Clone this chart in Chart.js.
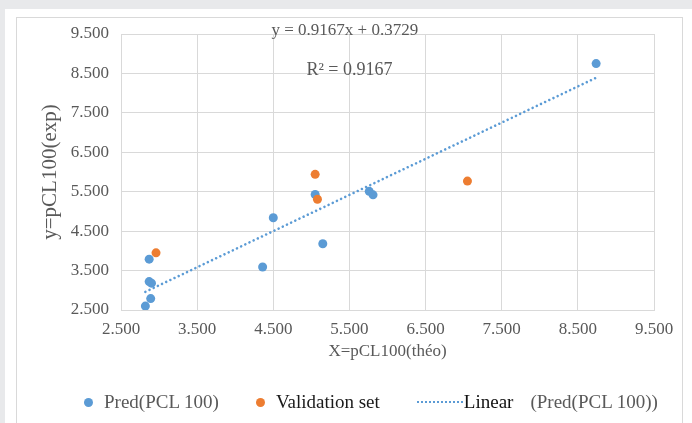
<!DOCTYPE html>
<html>
<head>
<meta charset="utf-8">
<script src="https://cdn.jsdelivr.net/npm/chart.js@4.4.1/dist/chart.umd.min.js"></script>
<style>
  html, body { margin: 0; padding: 0; width: 692px; height: 423px; overflow: hidden; background: #e8e9eb; }
  #panel { position: absolute; left: 5px; top: 9px; right: 0; bottom: 0; background: #fff; }
  #frame { position: absolute; left: 16px; top: 17px; width: 667px; height: 420px; border: 1px solid #d9d9d9; box-sizing: border-box; }
  #wrap { position: absolute; left: 0; top: 0; width: 692px; height: 423px; }
  #legend { position: absolute; left: 84px; top: 391px; display: flex; align-items: center;
            font-family: "Liberation Serif", serif; font-size: 19px; color: #595959; white-space: nowrap; }
  .item { display: flex; align-items: center; margin-right: 37px; }
  .dot { width: 9px; height: 9px; border-radius: 50%; margin-right: 11px; }
  .dash { width: 46px; height: 0; border-top: 2px dotted #5b9bd5; margin-right: 1px; }
</style>
</head>
<body>
<div id="panel"></div>
<div id="frame"></div>
<div id="wrap"><canvas id="chart" width="692" height="423"></canvas></div>
<div id="legend"></div>
<script>
// valeurs
const predX = [2.82, 2.89, 2.87, 2.90, 2.87, 4.36, 4.50, 5.05, 5.15, 5.76, 5.81, 8.74];
const predY = [2.60, 2.79, 3.22, 3.18, 3.79, 3.59, 4.84, 5.43, 4.18, 5.51, 5.42, 8.75];
const validX = [2.96, 5.05, 5.08, 7.05];
const validY = [3.95, 5.94, 5.31, 5.77];
const trendX = [2.82, 8.74];
const trendY = [2.96, 8.39];
const tickValues = [2.5, 3.5, 4.5, 5.5, 6.5, 7.5, 8.5, 9.5];
const seriesNames = ["Pred(PCL 100)", "Validation set", "Linear (Pred(PCL 100))"];
const eqText = "y = 0.9167x + 0.3729";
const r2Text = "R\u00b2 = 0.9167";

const blue = "#5b9bd5";
const orange = "#ed7d31";
const grey = "#595959";
const serif = "'Liberation Serif', 'Times New Roman', serif";

function toPoints(xs, ys) {
    return xs.map((x, i) => ({ x: x, y: ys[i] }));
}

// texte de la courbe de tendance
const trendText = {
    id: "trendText",
    afterDatasetsDraw(chart) {
        const ctx = chart.ctx;
        const sx = chart.scales.x, sy = chart.scales.y;
        ctx.save();
        ctx.fillStyle = grey;
        ctx.textAlign = "center";
        ctx.textBaseline = "middle";
        ctx.font = "17px " + serif;
        ctx.fillText(eqText, sx.getPixelForValue(5.44), sy.getPixelForValue(9.58));
        ctx.font = "18px " + serif;
        ctx.fillText(r2Text, sx.getPixelForValue(5.50), sy.getPixelForValue(8.59));
        ctx.restore();
    }
};

const fixTicks = s => { s.ticks = tickValues.map(v => ({ value: v })); };

const chart = new Chart(document.getElementById("chart"), {
    type: "scatter",
    data: {
        datasets: [
            {
                label: seriesNames[0],
                data: toPoints(predX, predY),
                backgroundColor: blue,
                borderColor: blue,
                pointRadius: 4.5,
                pointBorderWidth: 0,
                order: 2
            },
            {
                label: seriesNames[1],
                data: toPoints(validX, validY),
                backgroundColor: orange,
                borderColor: orange,
                pointRadius: 4.5,
                pointBorderWidth: 0,
                order: 1
            },
            {
                label: seriesNames[2],
                type: "line",
                data: toPoints(trendX, trendY),
                borderColor: blue,
                borderWidth: 2.6,
                borderDash: [0.01, 4.6],
                borderCapStyle: "round",
                pointRadius: 0,
                fill: false,
                order: 0
            }
        ]
    },
    options: {
        responsive: false,
        animation: false,
        layout: { padding: { left: 16, top: 34, right: 38, bottom: 58 } },
        plugins: {
            legend: { display: false },
            tooltip: { enabled: false }
        },
        scales: {
            x: {
                type: "linear",
                min: 2.5,
                max: 9.5,
                afterBuildTicks: fixTicks,
                afterFit: s => { s.height = 55; },
                grid: { color: "#d9d9d9", drawTicks: false },
                border: { color: "#d9d9d9" },
                ticks: {
                    padding: 9,
                    color: grey,
                    font: { family: serif, size: 17 },
                    callback: v => v.toFixed(3)
                },
                title: {
                    display: true,
                    text: "X=pCL100(théo)",
                    color: grey,
                    font: { family: serif, size: 17 },
                    padding: { top: 0, bottom: 3 }
                }
            },
            y: {
                type: "linear",
                min: 2.5,
                max: 9.5,
                afterBuildTicks: fixTicks,
                afterFit: s => { s.width = 105; },
                grid: { color: "#d9d9d9", drawTicks: false },
                border: { color: "#d9d9d9" },
                ticks: {
                    padding: 12,
                    color: grey,
                    font: { family: serif, size: 17 },
                    callback: v => v.toFixed(3)
                },
                title: {
                    display: true,
                    text: "y=pCL100(exp)",
                    color: grey,
                    font: { family: serif, size: 21 },
                    padding: { top: 22, bottom: 0 }
                }
            }
        }
    },
    plugins: [trendText]
});

// légende en HTML, construite depuis les séries
const legend = document.getElementById("legend");
chart.data.datasets.forEach((ds, i) => {
    const item = document.createElement("div");
    item.className = "item";
    if (ds.type === "line") {
        const mark = document.createElement("span");
        mark.className = "dash";
        item.appendChild(mark);
        const parts = ds.label.split(" ");
        const first = document.createElement("span");
        first.textContent = parts.shift();
        first.style.color = "#111";
        first.style.marginRight = "17px";
        const rest = document.createElement("span");
        rest.textContent = parts.join(" ");
        item.appendChild(first);
        item.appendChild(rest);
    } else {
        const mark = document.createElement("span");
        mark.className = "dot";
        mark.style.background = ds.backgroundColor;
        item.appendChild(mark);
        const txt = document.createElement("span");
        txt.textContent = ds.label;
        if (i === 1) {
            txt.style.color = "#1a1a1a";
        }
        item.appendChild(txt);
    }
    legend.appendChild(item);
});
</script>
</body>
</html>
